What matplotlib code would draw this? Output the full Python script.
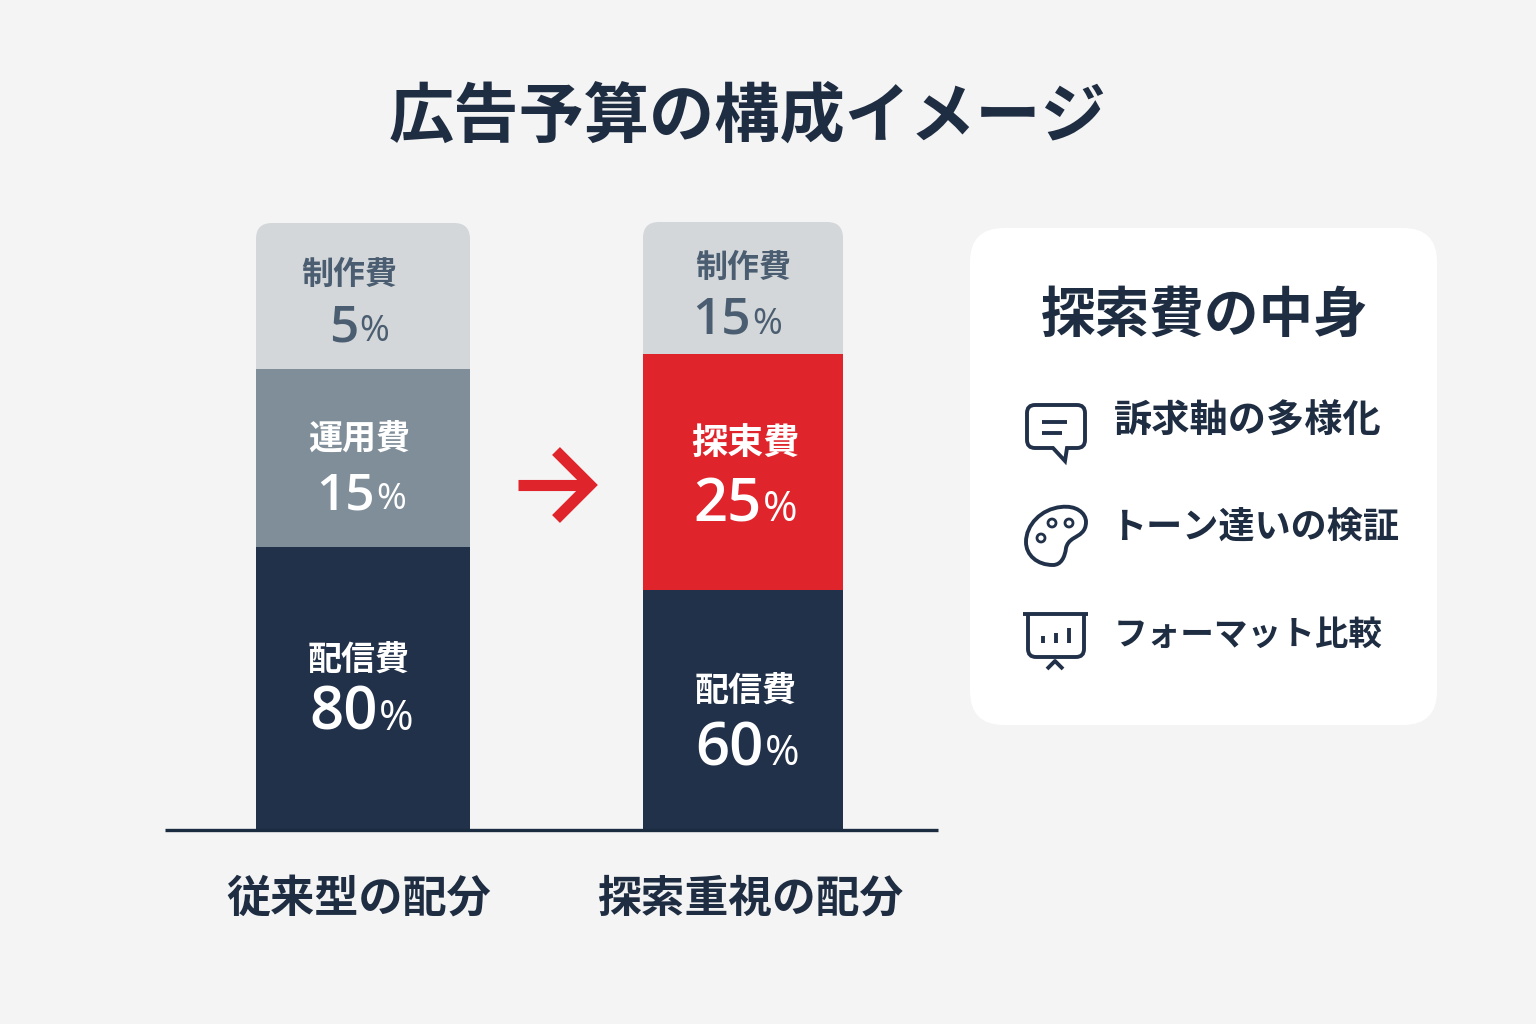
import matplotlib
matplotlib.use('Agg')
import matplotlib.pyplot as plt
from matplotlib.patches import FancyBboxPatch, PathPatch, Circle
from matplotlib.path import Path

plt.rcParams['font.family'] = ['Noto Sans CJK JP', 'DejaVu Sans']

# chart content
title = '広告予算の構成イメージ'
columns = ['従来型の配分', '探索重視の配分']
left_names = ['配信費', '運用費', '制作費']
right_names = ['配信費', '探束費', '制作費']
left_shares = [80, 15, 5]
right_shares = [60, 25, 15]
# the drawn blocks are not to scale with the printed shares, so heights are read off separately
left_heights = [46.5, 29.3, 24.0]
right_heights = [39.5, 38.8, 21.7]
panel_title = '探索費の中身'
panel_items = ['訴求軸の多様化', 'トーン達いの検証', 'フォーマット比較']

NAVY = '#22314a'
INK = '#1f2d42'
GREY = '#808e9a'
LIGHT = '#d3d7da'
RED = '#e0242c'
SLATE = '#4b5d70'
BG = '#f4f4f4'
left_colors = [NAVY, GREY, LIGHT]
right_colors = [NAVY, RED, LIGHT]

W, H = 1536, 1024
fig = plt.figure(figsize=(W / 100, H / 100), dpi=100, facecolor=BG)

# bars axes: baseline at y=830, 100 units = 608 px
ax = fig.add_axes([165 / W, (H - 830) / H, (938 - 165) / W, 608 / H])
ax.set_xlim((165 - 363) / 380, (938 - 363) / 380)
ax.set_ylim(0, 100)
ax.patch.set_alpha(0)
for side in ['top', 'left', 'right']:
    ax.spines[side].set_visible(False)
ax.spines['bottom'].set_color('#1b2b40')
ax.spines['bottom'].set_linewidth(2.4)
ax.spines['bottom'].set_capstyle('butt')
ax.set_xticks([])
ax.set_yticks([])

# overlay in pixel coordinates for text and decoration
ov = fig.add_axes([0, 0, 1, 1])
ov.set_xlim(0, W)
ov.set_ylim(H, 0)
ov.axis('off')
ov.patch.set_alpha(0)


def stack(x, heights, colors, width, px_left, px_width, px_top):
    bottom = 0
    for h, c in zip(heights, colors):
        bars = ax.bar(x, h, width=width, bottom=bottom, color=c, linewidth=0)
        bottom += h
    # round the two upper corners of the top block
    clip = FancyBboxPatch((px_left, px_top), px_width, 300,
                          boxstyle='round,pad=0,rounding_size=16', transform=ov.transData)
    bars[0].set_clip_path(clip)


stack(0, left_heights, left_colors, 214 / 380, 256, 214, 223)
stack(1, right_heights, right_colors, 200 / 380, 643, 200, 222)

ov.text(747, 117, title, fontsize=47, fontweight='bold', color=INK, ha='center', va='center')
ov.text(359, 899, columns[0], fontsize=31.8, fontweight='bold', color=INK, ha='center', va='center')
ov.text(750, 899, columns[1], fontsize=31.5, fontweight='bold', color=INK, ha='center', va='center')


def label(name, share, cx, cy, name_size, split_x, base_y, num_size, color):
    ov.text(cx, cy + 3, name, fontsize=name_size, fontweight='bold', color=color, ha='center', va='center')
    ov.text(split_x, base_y, str(share), fontsize=num_size, fontweight=600, color=color,
            ha='right', va='baseline', family=['Open Sans', 'DejaVu Sans'])
    ov.text(split_x + 1, base_y, '%', fontsize=num_size * 0.7, fontweight=500, color=color,
            ha='left', va='baseline', family=['Open Sans', 'DejaVu Sans'])


label(left_names[2], left_shares[2], 349, 272, 23, 358, 341, 37, SLATE)
label(left_names[1], left_shares[1], 359, 436, 24.5, 375, 509, 37, 'white')
label(left_names[0], left_shares[0], 359, 657, 24.5, 378, 730, 43, 'white')
label(right_names[2], right_shares[2], 743, 265, 23, 751, 334, 37, SLATE)
label(right_names[1], right_shares[1], 745, 441, 26, 762, 521, 43, 'white')
label(right_names[0], right_shares[0], 746, 688, 24.5, 764, 765, 43, 'white')

# arrow between the bars
ov.plot([518, 588], [485, 485], color=RED, lw=8, solid_capstyle='butt')
ov.plot([556, 590, 556], [451, 485, 519], color=RED, lw=8, solid_joinstyle='miter', solid_capstyle='butt')

# right panel
ov.add_patch(FancyBboxPatch((970, 228), 467, 497, boxstyle='round,pad=0,rounding_size=34',
                            facecolor='white', edgecolor='none'))
ov.text(1205, 316, panel_title, fontsize=39.3, fontweight='bold', color=INK, ha='center', va='center')
item_sizes = [27.5, 26, 24.2]
item_x = [1114, 1110, 1114]
item_y = [421, 528, 635]
for item, size, x, y in zip(panel_items, item_sizes, item_x, item_y):
    ov.text(x, y, item, fontsize=size, fontweight='bold', color=INK, ha='left', va='center')

ICON = dict(color=NAVY, lw=2.8, solid_capstyle='butt')
PATCH = dict(facecolor='none', edgecolor=NAVY, lw=2.8)

# speech bubble icon
bubble = [(Path.MOVETO, (1035, 405)), (Path.LINETO, (1077, 405)), (Path.CURVE3, (1085, 405)), (Path.CURVE3, (1085, 413)),
          (Path.LINETO, (1085, 440)), (Path.CURVE3, (1085, 448)), (Path.CURVE3, (1077, 448)),
          (Path.LINETO, (1067, 448)), (Path.LINETO, (1065, 461)), (Path.LINETO, (1053, 448)),
          (Path.LINETO, (1035, 448)), (Path.CURVE3, (1027, 448)), (Path.CURVE3, (1027, 440)),
          (Path.LINETO, (1027, 413)), (Path.CURVE3, (1027, 405)), (Path.CURVE3, (1035, 405)), (Path.CLOSEPOLY, (1035, 405))]
ov.add_patch(PathPatch(Path([p for _, p in bubble], [c for c, _ in bubble]), **PATCH))
ov.plot([1042, 1067], [422, 422], **ICON)
ov.plot([1042, 1062], [433, 433], **ICON)

# palette icon
blob = [(Path.MOVETO, (1061, 507)),
        (Path.CURVE4, (1076, 505)), (Path.CURVE4, (1086, 513)), (Path.CURVE4, (1086, 522)),
        (Path.CURVE4, (1086, 532)), (Path.CURVE4, (1079, 535)), (Path.CURVE4, (1074, 538)),
        (Path.CURVE4, (1069, 541)), (Path.CURVE4, (1067, 544)), (Path.CURVE4, (1066, 548)),
        (Path.CURVE4, (1065, 557)), (Path.CURVE4, (1061, 565)), (Path.CURVE4, (1053, 565)),
        (Path.CURVE4, (1037, 565)), (Path.CURVE4, (1026, 555)), (Path.CURVE4, (1026, 542)),
        (Path.CURVE4, (1026, 525)), (Path.CURVE4, (1041, 509)), (Path.CURVE4, (1061, 507))]
ov.add_patch(PathPatch(Path([p for _, p in blob], [c for c, _ in blob]), **PATCH))
for cx, cy in [(1052, 523), (1069, 523), (1041, 538)]:
    ov.add_patch(Circle((cx, cy), 4, facecolor='none', edgecolor=NAVY, lw=2))

# presentation board icon
ov.plot([1023, 1088], [614, 614], **ICON)
board = [(Path.MOVETO, (1028, 614)), (Path.LINETO, (1028, 649)), (Path.CURVE3, (1028, 657)), (Path.CURVE3, (1036, 657)),
         (Path.LINETO, (1076, 657)), (Path.CURVE3, (1084, 657)), (Path.CURVE3, (1084, 649)), (Path.LINETO, (1084, 614))]
ov.add_patch(PathPatch(Path([p for _, p in board], [c for c, _ in board]), **PATCH))
ov.plot([1043, 1043], [636, 643], **ICON)
ov.plot([1056, 1056], [633, 643], **ICON)
ov.plot([1069, 1069], [628, 643], **ICON)
ov.plot([1047, 1055, 1063], [669, 661, 669], **ICON)

fig.savefig('out.png', dpi=100, facecolor=BG)
